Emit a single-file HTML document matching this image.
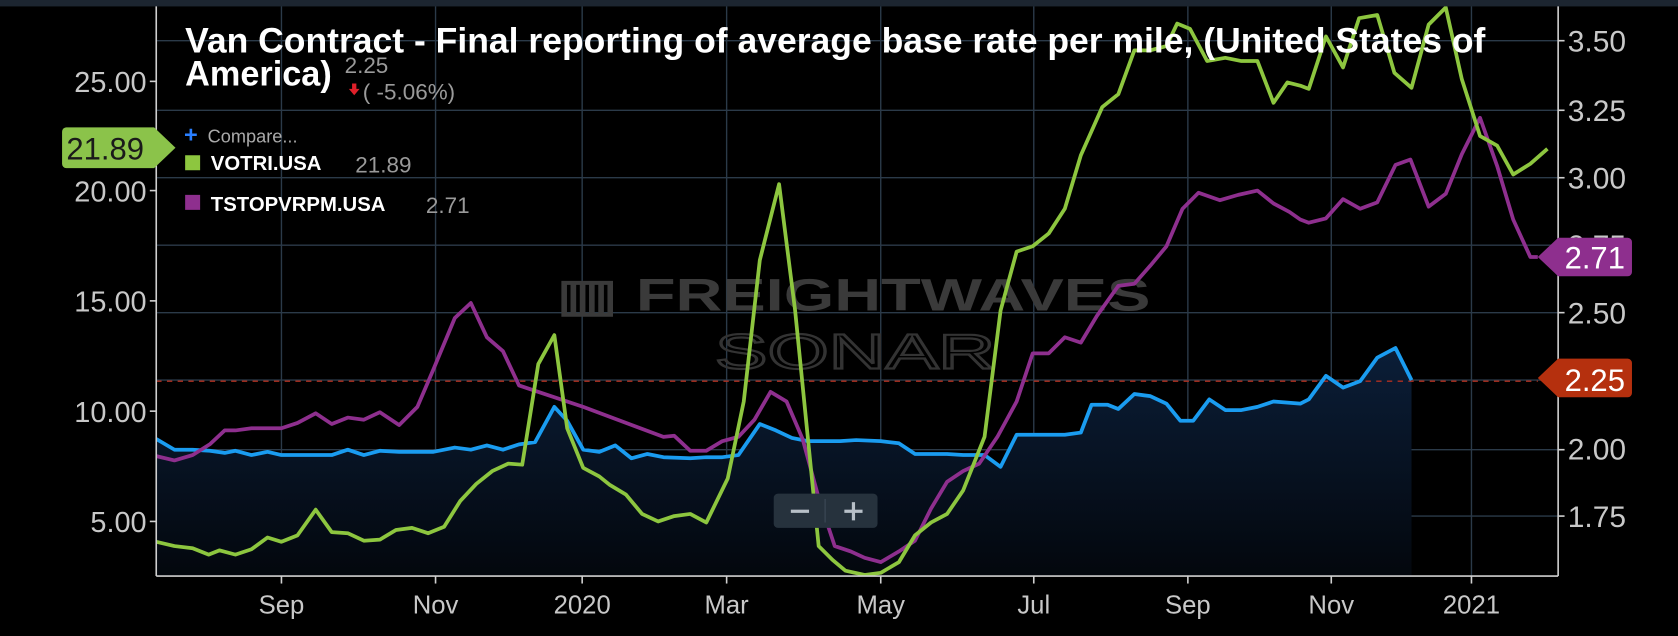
<!DOCTYPE html>
<html><head><meta charset="utf-8"><style>
html,body{margin:0;padding:0;background:#000;width:1678px;height:636px;overflow:hidden}
svg{display:block}
text{font-family:"Liberation Sans",sans-serif}
</style></head><body>
<svg width="1678" height="636" viewBox="0 0 1568 594" preserveAspectRatio="none">
<defs>
<linearGradient id="fg" x1="0" y1="0" x2="0" y2="1">
<stop offset="0" stop-color="#0b1e38"/><stop offset="1" stop-color="#03070d"/>
</linearGradient>
<clipPath id="pc"><rect x="146" y="6" width="1310" height="532"/></clipPath>
<clipPath id="jc"><rect x="146" y="540" width="40" height="50"/></clipPath>
</defs>
<rect width="1568" height="594" fill="#000"/>
<rect width="1568" height="6" fill="#1c2530"/>
<g stroke="#2b3a49" stroke-width="1.3">
<line x1="146" x2="1456" y1="38" y2="38"/><line x1="146" x2="1456" y1="103" y2="103"/>
<line x1="146" x2="1456" y1="166" y2="166"/><line x1="146" x2="1456" y1="229" y2="229"/>
<line x1="146" x2="1456" y1="292" y2="292"/><line x1="146" x2="1456" y1="355" y2="355"/>
<line x1="146" x2="1456" y1="420" y2="420"/><line x1="146" x2="1456" y1="482" y2="482"/>
<line x1="263" x2="263" y1="6" y2="538"/><line x1="407" x2="407" y1="6" y2="538"/>
<line x1="544" x2="544" y1="6" y2="538"/><line x1="679" x2="679" y1="6" y2="538"/>
<line x1="823" x2="823" y1="6" y2="538"/><line x1="966" x2="966" y1="6" y2="538"/>
<line x1="1110" x2="1110" y1="6" y2="538"/><line x1="1244" x2="1244" y1="6" y2="538"/>
<line x1="1375" x2="1375" y1="6" y2="538"/>
</g>
<text x="520" y="290" font-size="42" font-weight="bold" fill="#3a3a3a" textLength="555" lengthAdjust="spacingAndGlyphs">▥ FREIGHTWAVES</text>
<text x="668" y="344" font-size="46" fill="none" stroke="#333" stroke-width="2" textLength="262" lengthAdjust="spacingAndGlyphs">SONAR</text>
<g clip-path="url(#pc)">
<polygon fill="url(#fg)" points="146,538 146,410 163,420 180,420 196,421 210,423 220,421 235,425 250,422 263,425 278,425 295,425 310,425 325,420 340,425 355,421 373,422 390,422 405,422 425,418 440,420 455,416 470,420 485,415 500,413 518,380 530,393 545,420 560,422 575,416 590,428 605,424 620,427 645,428 660,427 675,427 690,425 710,396 725,402 740,409 755,412 770,412 785,412 800,411 823,412 840,414 855,424 870,424 885,424 900,425 920,425 935,436 950,406 965,406 980,406 995,406 1010,404 1020,378 1035,378 1045,382 1060,368 1075,370 1090,377 1103,393 1115,393 1130,373 1145,383 1160,383 1175,380 1190,375 1215,377 1223,373 1239,351 1255,362 1271,356 1287,334 1304,325 1319,355 1319,538"/>
<line x1="146" x2="1437" y1="356" y2="356" stroke="#b03020" stroke-width="1.3" stroke-dasharray="5,5"/>
<polyline fill="none" stroke="#1a9cf0" stroke-width="3.5" stroke-linejoin="round" points="146,410 163,420 180,420 196,421 210,423 220,421 235,425 250,422 263,425 278,425 295,425 310,425 325,420 340,425 355,421 373,422 390,422 405,422 425,418 440,420 455,416 470,420 485,415 500,413 518,380 530,393 545,420 560,422 575,416 590,428 605,424 620,427 645,428 660,427 675,427 690,425 710,396 725,402 740,409 755,412 770,412 785,412 800,411 823,412 840,414 855,424 870,424 885,424 900,425 920,425 935,436 950,406 965,406 980,406 995,406 1010,404 1020,378 1035,378 1045,382 1060,368 1075,370 1090,377 1103,393 1115,393 1130,373 1145,383 1160,383 1175,380 1190,375 1215,377 1223,373 1239,351 1255,362 1271,356 1287,334 1304,325 1319,355"/>
<polyline fill="none" stroke="#8e2f8e" stroke-width="3.5" stroke-linejoin="round" points="146,426 163,430 180,425 196,415 210,402 220,402 235,400 250,400 263,400 278,395 295,386 310,396 325,390 340,392 355,385 373,397 390,380 405,345 425,297 440,283 455,315 470,328 485,360 500,365 545,380 620,408 630,407 645,421 660,421 675,412 690,408 705,392 720,366 735,375 750,410 765,465 780,510 795,515 808,521 823,525 840,515 855,505 870,475 885,450 900,440 915,433 932,408 950,375 965,330 980,330 995,315 1010,320 1025,295 1045,267 1060,265 1075,248 1090,230 1105,195 1120,180 1140,187 1157,182 1175,178 1190,190 1205,198 1215,205 1223,208 1239,204 1255,186 1271,195 1287,189 1304,154 1318,149 1335,193 1351,181 1366,144 1383,110 1399,155 1414,205 1430,240 1437,240"/>
<polyline fill="none" stroke="#8dc63f" stroke-width="3.5" stroke-linejoin="round" points="146,506 163,510 180,512 195,518 205,514 220,518 235,513 250,502 263,506 278,500 295,476 310,497 325,498 340,505 355,504 370,495 385,493 400,498 415,492 430,468 445,452 460,440 475,433 488,434 503,340 518,313 530,400 545,437 560,445 570,453 585,462 600,480 615,487 630,482 645,480 660,488 680,447 695,375 710,243 728,172 743,290 755,410 765,510 778,523 790,533 808,537 823,535 840,525 855,500 870,488 885,480 900,458 920,408 935,290 950,235 965,230 980,218 995,195 1010,145 1030,100 1045,88 1060,47 1075,47 1090,43 1100,22 1112,27 1128,57 1145,54 1160,57 1175,57 1190,96 1203,77 1215,80 1223,83 1239,34 1255,63 1270,17 1287,14 1303,68 1319,82 1335,23 1351,7 1366,74 1383,127 1399,136 1414,163 1430,153 1446,139"/>
</g>
<g stroke="#cfcfcf" stroke-width="1.5">
<line x1="146" x2="146" y1="6" y2="538"/><line x1="146" x2="1456" y1="538" y2="538"/>
<line x1="1456" x2="1456" y1="6" y2="538"/>
<line x1="140" x2="146" y1="76" y2="76"/><line x1="140" x2="146" y1="178" y2="178"/>
<line x1="140" x2="146" y1="281" y2="281"/><line x1="140" x2="146" y1="384" y2="384"/>
<line x1="140" x2="146" y1="487" y2="487"/>
<line x1="1456" x2="1462" y1="38" y2="38"/><line x1="1456" x2="1462" y1="103" y2="103"/>
<line x1="1456" x2="1462" y1="166" y2="166"/><line x1="1456" x2="1462" y1="229" y2="229"/>
<line x1="1456" x2="1462" y1="292" y2="292"/><line x1="1456" x2="1462" y1="355" y2="355"/>
<line x1="1456" x2="1462" y1="420" y2="420"/><line x1="1456" x2="1462" y1="482" y2="482"/>
<line x1="263" x2="263" y1="538" y2="545"/><line x1="407" x2="407" y1="538" y2="545"/>
<line x1="544" x2="544" y1="538" y2="545"/><line x1="679" x2="679" y1="538" y2="545"/>
<line x1="823" x2="823" y1="538" y2="545"/><line x1="966" x2="966" y1="538" y2="545"/>
<line x1="1110" x2="1110" y1="538" y2="545"/><line x1="1244" x2="1244" y1="538" y2="545"/>
<line x1="1375" x2="1375" y1="538" y2="545"/>
</g>
<g fill="#c8c8c8" font-size="27" text-anchor="end">
<text x="137" y="86">25.00</text><text x="137" y="188">20.00</text>
<text x="137" y="291">15.00</text><text x="137" y="394">10.00</text>
<text x="137" y="497">5.00</text>
</g>
<g fill="#c8c8c8" font-size="28">
<text x="1465" y="48">3.50</text><text x="1465" y="113">3.25</text>
<text x="1465" y="176">3.00</text><text x="1465" y="239">2.75</text>
<text x="1465" y="302">2.50</text><text x="1465" y="429">2.00</text>
<text x="1465" y="492">1.75</text>
</g>
<g fill="#c8c8c8" font-size="24" text-anchor="middle">
<text x="130" y="573" clip-path="url(#jc)">Jul</text>
<text x="263" y="573">Sep</text><text x="407" y="573">Nov</text><text x="544" y="573">2020</text>
<text x="679" y="573">Mar</text><text x="823" y="573">May</text><text x="966" y="573">Jul</text>
<text x="1110" y="573">Sep</text><text x="1244" y="573">Nov</text><text x="1375" y="573">2021</text>
</g>
<path d="M58,123 a4,4 0 0 1 4,-4 H144 L164,138 L144,157 H62 a4,4 0 0 1 -4,-4 Z" fill="#8bc34a"/>
<text x="62" y="149" font-size="29" fill="#1a1a1a">21.89</text>
<path d="M1437,240 L1456,222 H1521 a4,4 0 0 1 4,4 V254 a4,4 0 0 1 -4,4 H1456 Z" fill="#8e2f8e"/>
<text x="1462" y="251" font-size="29" fill="#fff">2.71</text>
<path d="M1437,353 L1456,335 H1521 a4,4 0 0 1 4,4 V367 a4,4 0 0 1 -4,4 H1456 Z" fill="#b5300e"/>
<text x="1462" y="365" font-size="29" fill="#fff">2.25</text>
<text x="173" y="49" font-size="33" font-weight="bold" fill="#fff" textLength="1215" lengthAdjust="spacingAndGlyphs">Van Contract - Final reporting of average base rate per mile, (United States of</text>
<text x="173" y="80" font-size="33" font-weight="bold" fill="#fff" textLength="137" lengthAdjust="spacingAndGlyphs">America)</text>
<text x="322" y="68" font-size="21" fill="#9a9a9a">2.25</text>
<polygon points="329,78 333,78 333,83 336,83 331,89 326,83 329,83" fill="#e0202a"/>
<text x="339" y="93" font-size="21" fill="#9a9a9a">( -5.06%)</text>
<text x="172" y="133" font-size="22" fill="#2a7fff" font-weight="bold">+</text>
<text x="194" y="133" font-size="17" fill="#aaa">Compare...</text>
<rect x="173" y="145" width="14" height="14" fill="#8dc63f"/>
<text x="197" y="159" font-size="19" font-weight="bold" fill="#fff">VOTRI.USA</text>
<text x="332" y="161" font-size="21" fill="#9a9a9a">21.89</text>
<rect x="173" y="182" width="14" height="14" fill="#8e2f8e"/>
<text x="197" y="197" font-size="19" font-weight="bold" fill="#fff">TSTOPVRPM.USA</text>
<text x="398" y="199" font-size="21" fill="#9a9a9a">2.71</text>
<rect x="723" y="461" width="97" height="32" rx="4" fill="#26323d"/>
<line x1="771" x2="771" y1="466" y2="488" stroke="#3d4b58"/>
<rect x="739" y="476" width="17" height="3" fill="#b8c0c8"/>
<rect x="789" y="476" width="17" height="3" fill="#b8c0c8"/><rect x="796" y="469" width="3" height="17" fill="#b8c0c8"/>
</svg>
</body></html>
